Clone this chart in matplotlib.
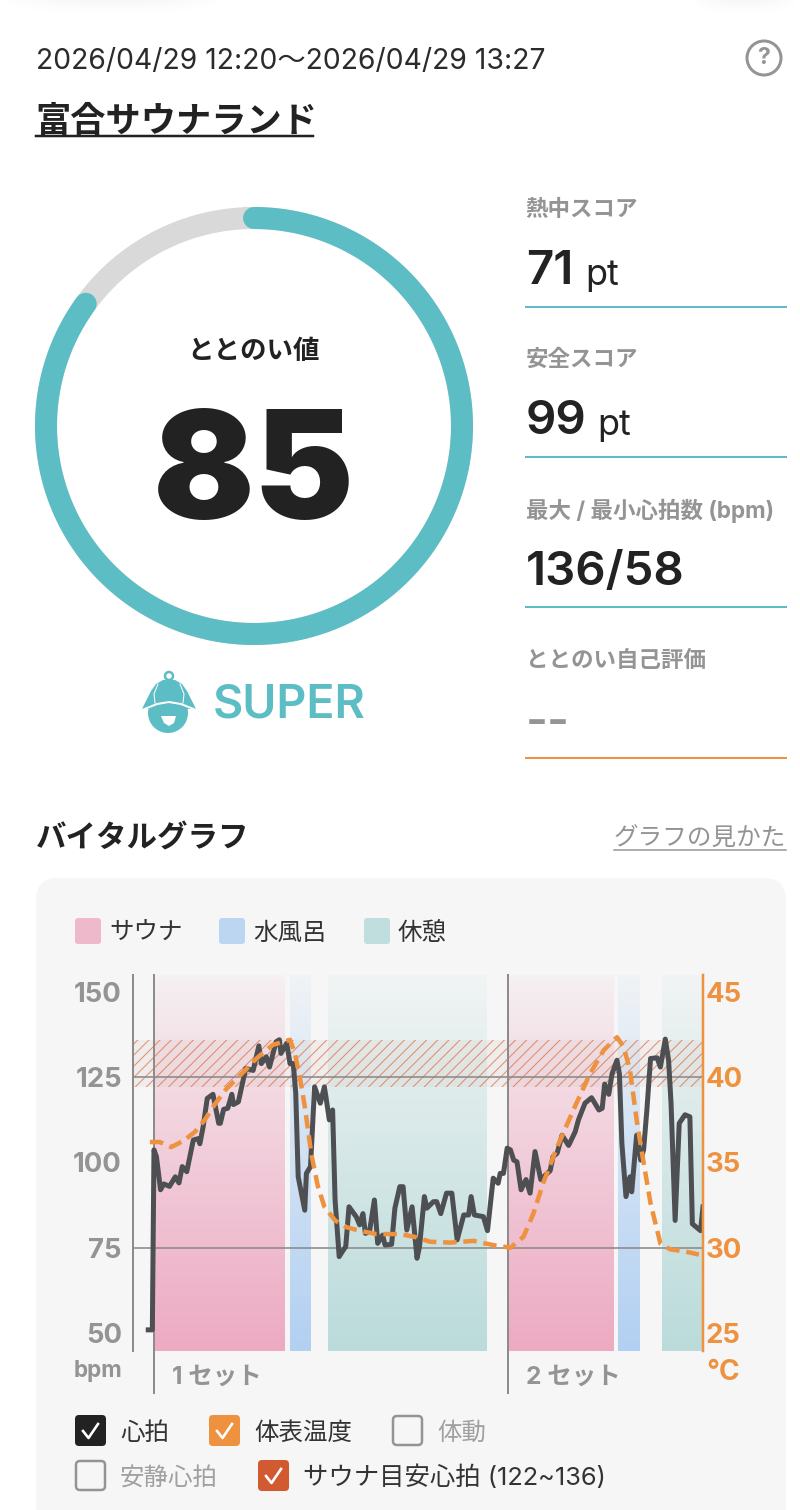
import numpy as np
import matplotlib
matplotlib.use("Agg")
import matplotlib.pyplot as plt
from matplotlib.patches import Circle, FancyBboxPatch, Polygon
from matplotlib.colors import to_rgb

plt.rcParams['font.family'] = ['Inter', 'Noto Sans CJK JP', 'DejaVu Sans']
plt.rcParams['hatch.linewidth'] = 0.75

# values
score = 85
hr_min = [-0.7, -0.2, 0, 0.3, 0.8, 1.2, 1.9, 2.6, 3.05, 3.45, 4.0, 4.8, 5.4, 5.6, 6, 6.5, 7.2, 7.9, 8.1, 8.5, 9, 9.5, 9.7, 10.3,
          11.2, 12.1, 12.8, 13.1, 13.7, 14.1, 14.9, 15.3, 15.5, 16.2, 16.6, 17, 17.3, 17.6, 18.4, 18.6, 19.1, 19.6, 20.3,
          20.8, 21.4, 21.8, 22.1, 22.6, 23.1, 23.4, 23.8, 24.7, 25.1, 25.5, 25.8, 26.3, 26.9, 27.3, 27.9, 28.2, 29, 29.4,
          30, 30.4, 30.85, 31.5, 32.1, 32.4, 33, 33.3, 34.1, 34.5, 35, 35.7, 36.35, 37, 37.8, 38.4, 38.7, 39.1, 40.2, 40.7,
          41.4, 42, 42.25, 42.65, 43.1, 43.5, 43.9, 44.3, 44.8, 45.4, 45.9, 46.5, 47.2, 48.35, 48.7, 49.2, 49.8, 50.6, 51.4,
          51.8, 52.6, 53.4, 54.3, 54.7, 55, 55.5, 55.9, 56.5, 56.8, 57.1, 57.6, 58.1, 58.3, 58.9, 59.4, 59.75, 60.15, 60.6,
          61.4, 61.8, 62.4, 62.8, 63.1, 63.6, 64.1, 64.8, 65.4, 65.7, 66.2, 66.7, 67]
hr_bpm = [50.9, 50.9, 103.7, 101.7, 92, 93.7, 93, 95.8, 94, 98.8, 97.3, 106.6, 107, 105.5, 110.5, 118.8, 120, 111.5, 111.5, 115.6, 115.9, 120, 117, 117.8,
          127.6, 127, 134.2, 129, 131, 128, 135.4, 136, 132, 135, 129, 129, 120.3, 95.8, 86, 96.8, 98.8, 122.2, 117.4,
          122.2, 112.5, 115.4, 89, 72.4, 74.3, 75.3, 87, 84, 81.7, 85, 79.2, 79.7, 89, 76.3, 78.7, 75.8, 76, 86.6,
          92.9, 92.9, 80.2, 87, 71.9, 75.3, 90, 86.6, 88.5, 88.5, 85, 91, 91, 77.3, 84.6, 84.6, 90, 84.6, 84.1, 80,
          95.4, 93.9, 96.8, 96.8, 104.2, 103.7, 100.7, 100.2, 92, 95, 91, 103.2, 95, 97.6, 101.7, 102.7, 108, 105, 109,
          112.5, 117.4, 119, 115.4, 115.9, 123, 120, 126, 130, 126, 105.6, 90, 95.8, 91.4, 108, 100.7, 103.7, 115.4, 130.5,
          130.7, 128, 136.2, 130, 117.4, 83, 111.5, 114, 113.4, 82, 81, 80, 87]
temp_min = [-0.5, 0.7, 2.1, 3.7, 5, 6.2, 7.4, 8.8, 10.7, 12.5, 14.5, 16.6, 17.2, 17.8, 18.4, 19.2, 20, 20.8, 22.1, 23.5, 25.1, 27.1,
            30, 31.7, 33.7, 36.15, 39, 41.4, 43.5, 45.1, 46.3, 47.5, 49.2, 51.2, 53.2, 54.9, 56.5, 57.3, 58.1, 58.9, 59.75,
            60.6, 61.8, 63, 64.6, 66.5]
temp_c = [36.2, 36.2, 35.9, 36.3, 36.8, 37.5, 38.4, 39.3, 40.2, 41.1, 41.9, 42.2, 41.4, 40, 38.3, 35.5, 33.6, 32.4, 31.6, 31.2, 31, 30.8,
          30.8, 30.65, 30.35, 30.3, 30.4, 30.15, 30, 30.65, 32, 33.8, 35.9, 38.1, 40.2, 41.6, 42.35, 41.8, 40.4, 37.5, 35,
          32.6, 30.25, 29.9, 29.8, 29.6]
sauna_spans = [(0, 15.9), (43.15, 56)]
cold_spans = [(16.65, 19.2), (56.6, 59.2)]
rest_spans = [(21.25, 40.6), (62, 67)]
set_starts = [0, 43.15]
bpm_ticks = [50, 75, 100, 125, 150]
temp_ticks = [25, 30, 35, 40, 45]
target_zone = (122, 136)

TEAL = '#5dbdc5'
ORANGE = '#ef9240'
GREY = '#949494'
DARK = '#222222'

fig = plt.figure(figsize=(8, 15.1), dpi=100, facecolor='white')
bg = fig.add_axes([0, 0, 1, 1])
bg.axis('off')


def px(size):
    return size * 0.72


def txt(x, y, s, size, color=DARK, weight='normal', ha='left'):
    # the text centre sits about 3 px above the asked y, y is the centre seen on screen
    return bg.text(x, y + 3, s, fontsize=px(size), color=color, fontweight=weight, ha=ha, va='center')


# faint shadows at the top corners
for x0, x1 in [(0, 225), (690, 800)]:
    xx = np.linspace(-1, 1, 80)
    yy = np.linspace(0, 1, 14)
    a = 0.035 * np.clip(1 - xx ** 2, 0, 1)[None, :] * (1 - yy)[:, None]
    g = np.zeros((14, 80, 4))
    g[..., 3] = a
    bg.imshow(g, extent=[x0, x1, 14, 0], aspect='auto')
bg.set_xlim(0, 800)
bg.set_ylim(1510, 0)

# header
txt(36, 58, '2026/04/29 12:20～2026/04/29 13:27', 28.3, '#2b2b2b')
txt(35, 119, '富合サウナランド', 35.2, DARK, 'bold')
bg.plot([36, 313], [136, 136], color=DARK, lw=px(2.5))
bg.add_patch(Circle((764, 58), 17, fc='none', ec=GREY, lw=px(3)))
txt(764, 55, '?', 23, GREY, 'bold', ha='center')

# score ring
cx, cy, r = 254, 426, 208
t = np.linspace(0, 2 * np.pi, 400)
bg.plot(cx + r * np.sin(t), cy - r * np.cos(t), color='#d9d9d9', lw=px(22))
t = np.linspace(0, 2 * np.pi * score / 100, 400)
bg.plot(cx + r * np.sin(t), cy - r * np.cos(t), color=TEAL, lw=px(22), solid_capstyle='round')
txt(254, 349, 'ととのい値', 26.5, DARK, 'bold', ha='center')
txt(254, 477, str(score), 150, DARK, 'black', ha='center')

# logo
bg.add_patch(Circle((169, 676), 4, fc='none', ec=TEAL, lw=px(2.5)))
bg.add_patch(Circle((168, 713), 20, fc=TEAL, ec='none'))
bg.add_patch(Polygon([(142, 709), (147, 699), (151, 691), (156, 684), (163, 680), (175, 680), (182, 684), (187, 691),
                      (191, 699), (196, 709)], fc=TEAL, ec='none'))
bg.plot([142, 157, 169, 181, 196], [710, 704, 702, 704, 710], color='white', lw=px(2))
bg.plot([158, 154, 155], [684, 694, 703], color='white', lw=px(1))
bg.plot([180, 184, 183], [684, 694, 703], color='white', lw=px(1))
bg.add_patch(Polygon([(161, 716), (176, 716), (174, 723), (169, 726), (164, 723)], fc='white', ec='none'))
txt(213, 703, 'SUPER', 46.5, TEAL, 'semibold')

# right column
rows = [(207, '熱中スコア', 269, '71', 585, 307, TEAL),
        (357, '安全スコア', 419, '99', 597, 457, TEAL),
        (508, '最大 / 最小心拍数 (bpm)', 570, '136/58', None, 607, TEAL),
        (658, 'ととのい自己評価', 721, '--', None, 758, ORANGE)]
for y0, label, y1, val, ux, yl, col in rows:
    txt(525.5, y0, label, 22.5, GREY, 'bold')
    txt(526, y1, val, 47.5, GREY if val == '--' else DARK, 'semibold')
    if ux:
        txt(ux, y1 + 3, 'pt', 36, DARK)
    bg.plot([526, 786], [yl, yl], color=col, lw=px(2))

# graph header and panel
txt(36, 836, 'バイタルグラフ', 30.5, DARK, 'bold')
txt(786, 836, 'グラフの見かた', 24.6, GREY, ha='right')
bg.plot([614, 786], [850, 850], color=GREY, lw=px(1.5))
bg.add_patch(FancyBboxPatch((36, 878), 750, 700, boxstyle='round,pad=0,rounding_size=22', fc='#f6f6f6', ec='none'))

for x, col, s in [(75, '#eeb9cb', 'サウナ'), (219, '#bcd6f2', '水風呂'), (364, '#c0dedd', '休憩')]:
    bg.add_patch(FancyBboxPatch((x, 918), 26, 26, boxstyle='round,pad=0,rounding_size=3', fc=col, ec='none'))
    txt(x + 34, 930, s, 24.5, '#333333')

txt(122, 1368, 'bpm', 22.5, GREY, 'bold', ha='right')
txt(706, 1370, '°C', 28, ORANGE, 'bold')
txt(172, 1374, '1 セット', 24.5, GREY, 'bold')
txt(526, 1374, '2 セット', 24.5, GREY, 'bold')


# checkboxes
def box(x, y, s, col=None, text_col='#333333', size=24.5):
    if col:
        bg.add_patch(FancyBboxPatch((x, y), 31, 31, boxstyle='round,pad=0,rounding_size=4', fc=col, ec='none'))
        bg.plot([x + 8, x + 13.5, x + 23], [y + 16, y + 23, y + 9], color='white', lw=px(2.6))
    else:
        bg.add_patch(FancyBboxPatch((x + 1, y + 1), 29, 29, boxstyle='round,pad=0,rounding_size=4', fc='none', ec=GREY, lw=px(2.5)))
    txt(x + 45, y + 15, s, size, text_col)


box(75, 1415, '心拍', DARK)
box(209, 1415, '体表温度', ORANGE)
box(392, 1415, '体動', None, '#a0a0a0')
box(75, 1460, '安静心拍', None, '#a0a0a0')
box(258, 1460, 'サウナ目安心拍 (122~136)', '#d25a30', size=25.4)

# chart axes, y span in px 975..1351, x span 133..703
ax = fig.add_axes([133 / 800, 1 - 1351 / 1510, (703 - 133) / 800, (1351 - 975) / 1510])
ax.patch.set_alpha(0)


def band(x0, x1, color):
    g = np.zeros((100, 1, 4))
    g[..., :3] = to_rgb(color)
    g[:, 0, 3] = np.linspace(0.06, 1, 100) ** 0.9
    ax.imshow(g, extent=[x0, x1, 44.7, 155], origin='upper', aspect='auto', zorder=1)


for a, b in sauna_spans:
    band(a, b, '#edaac2')
for a, b in cold_spans:
    band(a, b, '#b2d0f2')
for a, b in rest_spans:
    band(a, b, '#bbdbdb')
ax.set_xlim(-2.56, 67)
ax.set_ylim(44.7, 155)

ax.axhspan(*target_zone, facecolor=(0.85, 0.8, 0.78, 0.22), edgecolor=(0.85, 0.38, 0.2, 0.65), hatch='///', lw=0, zorder=2)
ax.axhline(125, color='#8a8a8a', lw=px(2), alpha=0.8, zorder=3)
ax.axhline(75, color='#8a8a8a', lw=px(2), alpha=0.8, zorder=3)
for s in set_starts:
    ax.plot([s, s], [32.4, 155], color='#8c8c8c', lw=px(2), clip_on=False, zorder=3)

ax.plot(hr_min, hr_bpm, color='#4d4f52', lw=px(5), zorder=4, solid_joinstyle='round')

ax.set_xticks([])
ax.set_yticks(bpm_ticks)
ax.tick_params(axis='y', length=0, pad=8, labelsize=px(27.5), labelcolor=GREY)
for lb in ax.get_yticklabels():
    lb.set_fontweight('bold')
ax.spines[['top', 'right', 'bottom']].set_visible(False)
ax.spines['left'].set_color('#8c8c8c')
ax.spines['left'].set_linewidth(px(2))

ax2 = ax.twinx()
ax2.patch.set_alpha(0)
ax2.set_ylim(30 + (44.7 - 75) / 5, 30 + (155 - 75) / 5)
ax2.plot(temp_min, temp_c, color=ORANGE, lw=px(4.5), dashes=(3, 1.5), zorder=5)
ax2.set_yticks(temp_ticks)
ax2.tick_params(axis='y', length=0, pad=2, labelsize=px(27.5), labelcolor=ORANGE)
for lb in ax2.get_yticklabels():
    lb.set_fontweight('bold')
ax2.spines[['top', 'left', 'bottom']].set_visible(False)
ax2.spines['right'].set_color(ORANGE)
ax2.spines['right'].set_linewidth(px(2.5))

fig.savefig('out.png', dpi=100)
